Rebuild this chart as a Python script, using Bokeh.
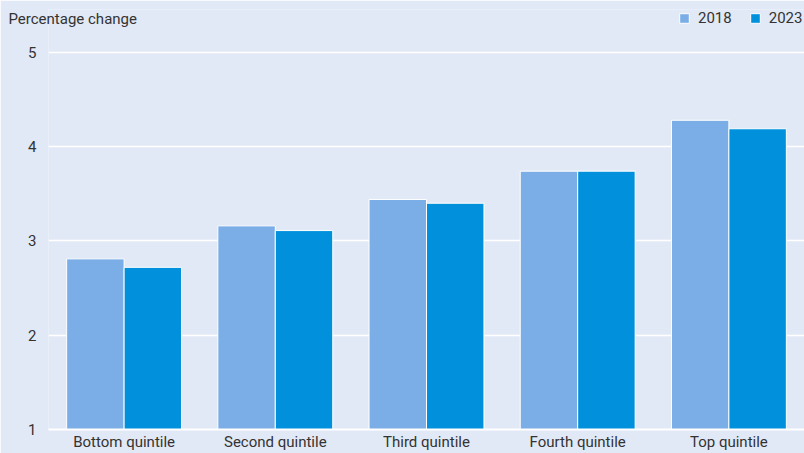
from bokeh.plotting import figure
from bokeh.models import ColumnDataSource, Legend, LegendItem, Range1d, FixedTicker
from bokeh.transform import dodge
from bokeh.embed import file_html
from bokeh.resources import INLINE

categories = ["Bottom quintile", "Second quintile", "Third quintile", "Fourth quintile", "Top quintile"]
values_2018 = [2.81, 3.16, 3.44, 3.74, 4.28]
values_2023 = [2.72, 3.11, 3.40, 3.74, 4.19]
series_names = ["2018", "2023"]
series_colors = ["#7BAEE6", "#0090DC"]
y_ticks = [1, 2, 3, 4, 5]
unit_label = "Percentage change"

FONT = "Roboto"
BG = "#E2E9F6"
TXT = "#333333"

src = ColumnDataSource(dict(cat=categories, v18=values_2018, v23=values_2023))

p = figure(x_range=categories, y_range=Range1d(1, 5.455), width=804, height=453,
           output_backend="svg", toolbar_location=None,
           background_fill_color=BG, border_fill_color=BG,
           min_border_left=48, min_border_right=0, min_border_bottom=23, min_border_top=9,
           outline_line_color=None)

r1 = p.vbar(x=dodge("cat", -0.19, range=p.x_range), top="v18", bottom=1, width=0.38,
            source=src, fill_color=series_colors[0], line_color="white", line_width=1)
r2 = p.vbar(x=dodge("cat", 0.19, range=p.x_range), top="v23", bottom=1, width=0.38,
            source=src, fill_color=series_colors[1], line_color="white", line_width=1)

p.x_range.range_padding = 0.0
p.xgrid.grid_line_color = None
p.ygrid.grid_line_color = "white"
p.ygrid.grid_line_width = 1.5
p.yaxis.ticker = FixedTicker(ticks=y_ticks)
p.yaxis.axis_line_color = None
p.yaxis.major_tick_line_color = None
p.yaxis.minor_tick_line_color = None
p.yaxis.major_label_text_font = FONT
p.yaxis.major_label_text_font_size = "15px"
p.yaxis.major_label_text_color = TXT
p.yaxis.major_label_standoff = 6
p.xaxis.axis_line_color = "white"
p.xaxis.axis_line_width = 2
p.xaxis.major_tick_line_color = None
p.xaxis.major_tick_out = 0
p.xaxis.major_tick_in = 0
p.xaxis.major_label_text_font = FONT
p.xaxis.major_label_text_font_size = "15px"
p.xaxis.major_label_text_color = TXT
p.xaxis.major_label_standoff = 3

p.title.text = unit_label
p.title.text_font = FONT
p.title.text_font_size = "15px"
p.title.text_font_style = "normal"
p.title.text_color = TXT
p.title.align = "left"
p.title.vertical_align = "bottom"
p.title.offset = -40
p.title.standoff = -36

legend = Legend(items=[LegendItem(label=series_names[0], renderers=[r1]),
                       LegendItem(label=series_names[1], renderers=[r2])],
                orientation="horizontal", location=(630, 402),
                background_fill_alpha=0, border_line_color=None,
                label_text_font=FONT, label_text_font_size="15px", label_text_color=TXT,
                glyph_width=12, glyph_height=12, spacing=17, padding=0, margin=0,
                label_standoff=8, label_height=14)
p.add_layout(legend, "center")

open("out.html", "w").write(file_html(p, INLINE))
